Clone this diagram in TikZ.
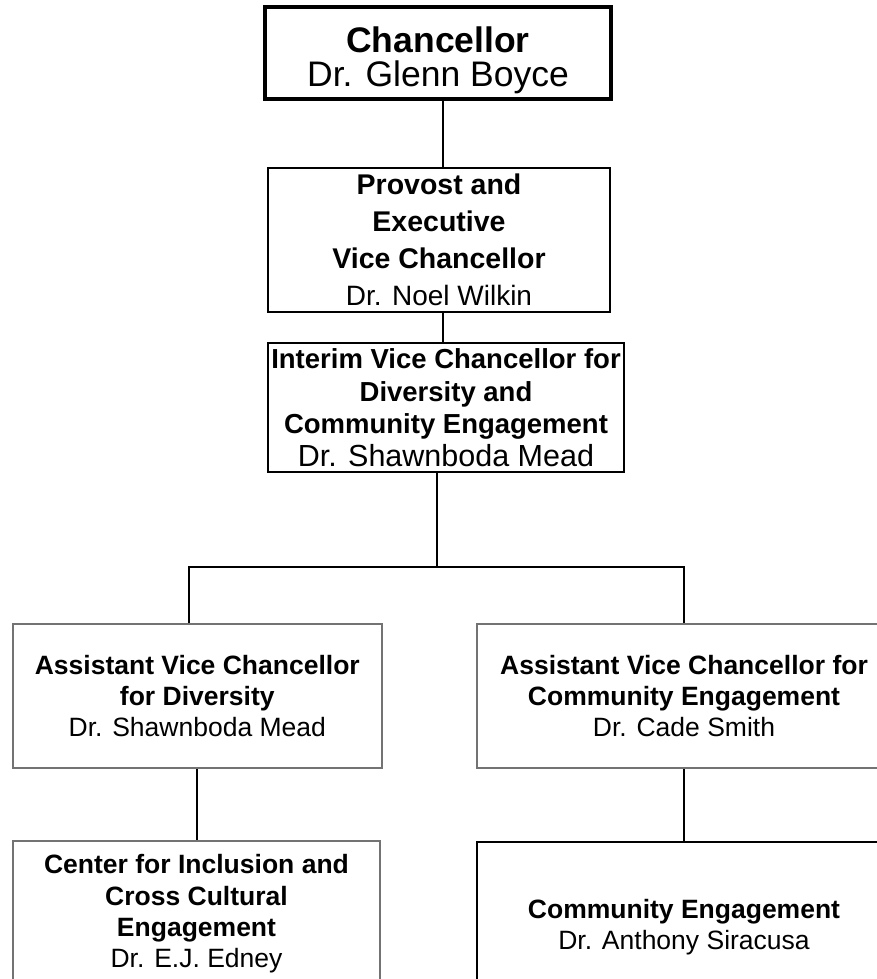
\documentclass[tikz,border=0pt]{standalone}
\usepackage{fontspec}
\setmainfont{Liberation Sans}
\usetikzlibrary{positioning}

\tikzset{
  post/.style={draw,line width=2pt,inner sep=0pt,align=center},
  chief/.style={post,line width=4pt},
  unit/.style={post,draw=black!55,line width=1.5pt},
  link/.style={line width=2pt}
}
\newcommand{\fsA}{\fontsize{35.5}{34}\selectfont}
\newcommand{\fsB}{\fontsize{28.5}{37}\selectfont}
\newcommand{\fsC}{\fontsize{27.5}{32.5}\selectfont}
\newcommand{\fsD}{\fontsize{26.5}{31.3}\selectfont}
\newcommand{\bigname}{\fontsize{30.5}{32.5}\selectfont}

\begin{document}
\begin{tikzpicture}[x=1pt,y=-1pt]
\useasboundingbox (0,0) rectangle (877,979);
\clip (0,0) rectangle (877,979);

% Top of the chart
\node[chief,minimum width=346,minimum height=92,font=\fsA] (chanc) at (438,53.5)
  {\rule{0pt}{40pt}\textbf{Chancellor}\\Dr. Glenn Boyce};
\node[post,minimum width=342,minimum height=144,font=\fsB] (prov) at (439,240)
  {\textbf{Provost and}\\\textbf{Executive}\\\textbf{Vice Chancellor}\\\fontsize{28}{37}\selectfont Dr. Noel Wilkin};
\node[post,minimum width=356,minimum height=129,font=\fsC] (vcdce) at (446,407.5)
  {\textbf{Interim Vice Chancellor for}\\\textbf{Diversity and}\\\textbf{Community Engagement}\\\bigname Dr. Shawnboda Mead};

% Assistant vice chancellors
\node[unit,minimum width=369,minimum height=144,font=\fsD] (avcdiv) at (197.3,696)
  {\textbf{Assistant Vice Chancellor}\\\textbf{for Diversity}\\Dr. Shawnboda Mead};
\node[unit,minimum width=414,minimum height=144,font=\fsD] (avcce) at (684,696)
  {\textbf{Assistant Vice Chancellor for}\\\textbf{Community Engagement}\\Dr. Cade Smith};

% Bottom row
\node[unit,minimum width=367,minimum height=146,font=\fsD] (cice) at (196.5,914)
  {\textbf{Center for Inclusion and}\\\textbf{Cross Cultural}\\\textbf{Engagement}\\Dr. E.J. Edney};
\node[post,line width=2.5pt,minimum width=414,minimum height=170,font=\fsD] (ce) at (684,927)
  {\textbf{Community Engagement}\\Dr. Anthony Siracusa};

% Connectors
\coordinate (fork) at (437,567);
\draw[link] ([xshift=4pt]prov.north) -- ([xshift=4pt]prov.north |- chanc.south);
\draw[link] ([xshift=4pt]prov.south) -- ([xshift=4pt]prov.south |- vcdce.north);
\draw[link] (fork |- vcdce.south) -- (fork);
\draw[link] ([xshift=-8pt]avcdiv.north) |- (fork) -| (avcce.north);
\draw[link] (avcdiv.south) -- (avcdiv.south |- cice.north);
\draw[link] (avcce.south) -- (avcce.south |- ce.north);
\end{tikzpicture}
\end{document}
